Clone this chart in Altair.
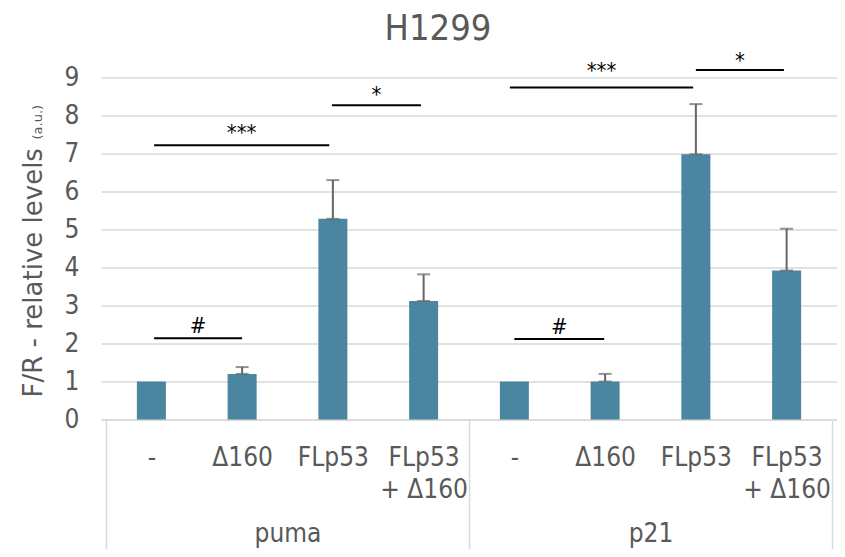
import json
import altair as alt
import pandas as pd

# ---------------- data ----------------
title_text = "H1299"
genes = ["puma", "p21"]
conditions = ["-", "Δ160", "FLp53", "FLp53|+ Δ160"]
puma_values = [1.0, 1.2, 5.28, 3.12]
puma_errors = [0.0, 0.18, 1.02, 0.70]
p21_values = [1.0, 1.0, 6.98, 3.92]
p21_errors = [0.0, 0.20, 1.32, 1.10]

sig_start = [0.03, 0.03, 1.99, 4.00, 3.95, 6.00]
sig_end = [1.00, 1.96, 2.97, 4.99, 5.97, 6.97]
sig_level = [2.14, 7.22, 8.27, 2.12, 8.74, 9.20]
sig_text = ["#", "***", "*", "#", "***", "*"]
sig_text_level = [2.28, 7.35, 8.36, 2.26, 9.00, 9.26]

y_ticks = list(range(10))

# ---------------- tables ----------------
all_values = puma_values + p21_values
all_errors = puma_errors + p21_errors
positions = list(range(len(all_values)))
tick_labels = [c for g in genes for c in conditions]
group_centers = [(len(conditions) - 1) / 2 + i * len(conditions) for i in range(len(genes))]
group_edges = [-0.5 + i * len(conditions) for i in range(len(genes) + 1)]

bars_df = pd.DataFrame({"pos": positions, "value": all_values, "err": all_errors})
bars_df["top"] = bars_df["value"] + bars_df["err"]
err_df = bars_df[bars_df["err"] > 0]
caps_df = pd.concat([
    pd.DataFrame({"pos": err_df["pos"], "y": err_df["value"]}),
    pd.DataFrame({"pos": err_df["pos"], "y": err_df["top"]}),
])
sig_df = pd.DataFrame({"x1": sig_start, "x2": sig_end, "level": sig_level,
                       "label": sig_text, "tlevel": sig_text_level})
sig_df["mid"] = (sig_df["x1"] + sig_df["x2"]) / 2

# ---------------- style ----------------
FONT = "DejaVu Sans Condensed, DejaVu Sans"
FONT_Y = "DejaVu Sans"
TXT = "#595959"
GRID = "#d9d9d9"
BAR = "#4B86A1"

xscale = alt.Scale(domain=[-0.5, len(positions) - 0.5], nice=False, zero=False)
yscale = alt.Scale(domain=[0, 9], nice=False, zero=False)

label_expr = "split(" + json.dumps(tick_labels, ensure_ascii=False) + "[datum.value], '|')"
group_expr = json.dumps(genes) + "[floor(datum.value / " + str(len(conditions)) + ")]"

bars = alt.Chart(bars_df).mark_bar(size=29, color=BAR).encode(
    x=alt.X("pos:Q", scale=xscale, axis=alt.Axis(
        orient="bottom", values=positions, labelExpr=label_expr, title=None,
        ticks=False, tickSize=0, grid=False, domain=True, domainColor=GRID, domainWidth=1.5,
        labelFont=FONT, labelFontSize=26, labelColor=TXT, labelPadding=25,
        labelLineHeight=32, labelOverlap=False, labelFlush=False, labelBaseline="top")),
    y=alt.Y("value:Q", scale=yscale, axis=alt.Axis(
        orient="left", values=y_ticks, grid=True, gridColor=GRID, gridWidth=1.5,
        ticks=False, tickSize=0, domain=False, labelFont=FONT, labelFontSize=26,
        labelColor=TXT, labelPadding=22, labelOverlap=False, labelFlush=False,
        title="F/R - relative levels", titleFont=FONT_Y, titleFontSize=26,
        titleFontWeight="normal", titleColor=TXT, titleAngle=270, titleAlign="left",
        titleBaseline="alphabetic", titleX=-60, titleY=319.5)),
)

err_rules = alt.Chart(err_df).mark_rule(color="#666666", strokeWidth=2).encode(
    x=alt.X("pos:Q", scale=xscale, axis=None),
    y=alt.Y("value:Q", scale=yscale, axis=None),
    y2="top:Q",
)

caps = alt.Chart(caps_df).mark_tick(orient="horizontal", size=13, thickness=2,
                                    color="#666666").encode(
    x=alt.X("pos:Q", scale=xscale, axis=None),
    y=alt.Y("y:Q", scale=yscale, axis=None),
)

sig_lines = alt.Chart(sig_df).mark_rule(color="black", strokeWidth=2).encode(
    x=alt.X("x1:Q", scale=xscale, axis=alt.Axis(
        orient="bottom", values=group_edges, labels=False, ticks=True, tickSize=130,
        tickColor=GRID, tickWidth=1.5, domain=False, grid=False, title=None)),
    x2="x2:Q",
    y=alt.Y("level:Q", scale=yscale, axis=None),
)

sig_labels = alt.Chart(sig_df).mark_text(
    font=FONT, fontSize=22, color="black", baseline="alphabetic", align="center"
).encode(
    x=alt.X("mid:Q", scale=xscale, axis=alt.Axis(
        orient="bottom", values=group_centers, labelExpr=group_expr, ticks=False,
        tickSize=0, domain=False, grid=False, title=None, labelFont=FONT,
        labelFontSize=26, labelColor=TXT, labelPadding=101, labelBaseline="top",
        labelFlush=False, labelOverlap=False)),
    y=alt.Y("tlevel:Q", scale=yscale, axis=alt.Axis(
        orient="left", labels=False, ticks=False, tickSize=0, grid=False, domain=False,
        title="(a.u.)", titleFont=FONT_Y, titleFontSize=13, titleFontWeight="normal",
        titleColor=TXT, titleAngle=270, titleAlign="left", titleBaseline="alphabetic",
        titleX=-60, titleY=61.5)),
    text="label:N",
)

chart = alt.layer(bars, err_rules, caps, sig_lines, sig_labels).resolve_axis(
    x="independent", y="independent"
).properties(
    width=736, height=342,
    title=alt.TitleParams(text=title_text, font=FONT, fontSize=36, fontWeight="normal",
                          color=TXT, anchor="middle", dx=-31, offset=-26,
                          baseline="alphabetic"),
    autosize=alt.AutoSizeParams(type="none"),
    padding={"left": 93, "top": 69.5, "right": 0, "bottom": 129},
).configure_view(stroke=None)

chart.save("out.html", embed_options={"renderer": "svg", "actions": False})
